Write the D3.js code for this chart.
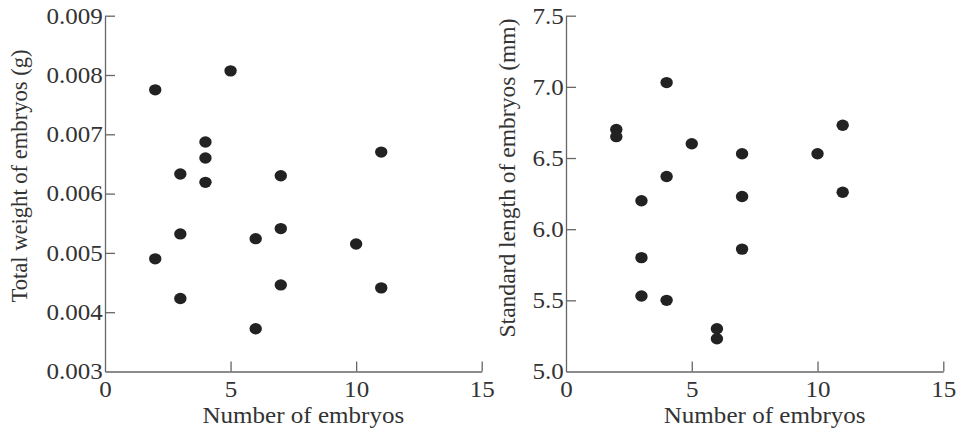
<!DOCTYPE html>
<html>
<head>
<meta charset="utf-8">
<script src="https://cdn.jsdelivr.net/npm/d3@7"></script>
<style>
  body { margin: 0; background: #fff; }
  svg text { font-family: "Liberation Serif", "Times New Roman", serif; fill: #333; }
  .axis path, .axis line { stroke: #666; stroke-width: 1.3; }
</style>
</head>
<body>
<div class="chart"></div>
<script>
// number of embryos per female (x), shared by both panels
var weightCount = [2, 5, 4, 4, 4, 3, 7, 11, 3, 7, 6, 10, 2, 7, 11, 3, 6];
var weightValue = [0.00775, 0.00807, 0.00687, 0.00660, 0.00619, 0.00633, 0.00630, 0.00670,
                   0.00532, 0.00541, 0.00524, 0.00515, 0.00490, 0.00446, 0.00441, 0.00423, 0.00372];

var lengthCount = [2, 2, 4, 5, 4, 7, 10, 11, 11, 7, 3, 7, 3, 3, 4, 6, 6];
var lengthValue = [6.70, 6.65, 7.03, 6.60, 6.37, 6.53, 6.53, 6.73, 6.26, 6.23, 6.20, 5.86,
                   5.80, 5.53, 5.50, 5.30, 5.23];

var xTicks = [0, 5, 10, 15];
var weightTicks = [0.003, 0.004, 0.005, 0.006, 0.007, 0.008, 0.009];
var lengthTicks = [5.0, 5.5, 6.0, 6.5, 7.0, 7.5];

var width = 960, height = 434;
var stretch = 1.09; // the original figure is a bit wider than tall

var svg = d3.select(".chart").append("svg")
  .attr("width", width)
  .attr("height", height);

function panel(opts) {
  var x = d3.scaleLinear().domain([0, 15]).range([opts.left, opts.right]);
  var y = d3.scaleLinear().domain(opts.yDomain).range([371.5, 15.7]);

  svg.append("g")
    .attr("class", "axis")
    .attr("transform", "translate(0," + y.range()[0] + ")")
    .call(d3.axisBottom(x).tickValues(xTicks).tickSize(-10).tickPadding(9).tickSizeOuter(0))
    .call(g => g.selectAll("text").attr("font-size", 23).attr("font-family", null)
      .attr("transform", "scale(" + stretch + ",1)"))
    .call(g => g.select(".tick:first-of-type line").remove());

  svg.append("g")
    .attr("class", "axis")
    .attr("transform", "translate(" + opts.left + ",0)")
    .call(d3.axisLeft(y).tickValues(opts.yTicks).tickFormat(d3.format(opts.fmt))
      .tickSize(-10).tickPadding(2).tickSizeOuter(0))
    .call(g => g.selectAll("text").attr("font-size", 23).attr("font-family", null)
      .attr("transform", "scale(" + stretch + ",1)"))
    .call(g => g.select(".tick:first-of-type line").remove());

  svg.append("g")
    .selectAll("ellipse")
    .data(opts.xs)
    .enter().append("ellipse")
      .attr("cx", d => x(d))
      .attr("cy", (d, i) => y(opts.ys[i]))
      .attr("rx", 6.2)
      .attr("ry", 5.7)
      .attr("fill", "#222");

  svg.append("text")
    .attr("transform", "translate(" + ((opts.left + opts.right) / 2 + 10) + ",422.5) scale(" + stretch + ",1)")
    .attr("text-anchor", "middle")
    .attr("font-size", 23)
    .text("Number of embryos");

  svg.append("text")
    .attr("transform", "translate(" + opts.titleX + "," + opts.titleY + ") rotate(-90)")
    .attr("text-anchor", "middle")
    .attr("font-size", 23)
    .attr("textLength", opts.titleLen)
    .attr("lengthAdjust", "spacingAndGlyphs")
    .text(opts.title);
}

panel({
  left: 105, right: 481.7,
  yDomain: [0.003, 0.009], yTicks: weightTicks, fmt: ".3f",
  xs: weightCount, ys: weightValue,
  title: "Total weight of embryos (g)", titleX: 27, titleY: 176, titleLen: 253
});

panel({
  left: 566, right: 943.3,
  yDomain: [5.0, 7.5], yTicks: lengthTicks, fmt: ".1f",
  xs: lengthCount, ys: lengthValue,
  title: "Standard length of embryos (mm)", titleX: 515, titleY: 178, titleLen: 319
});
</script>
</body>
</html>
